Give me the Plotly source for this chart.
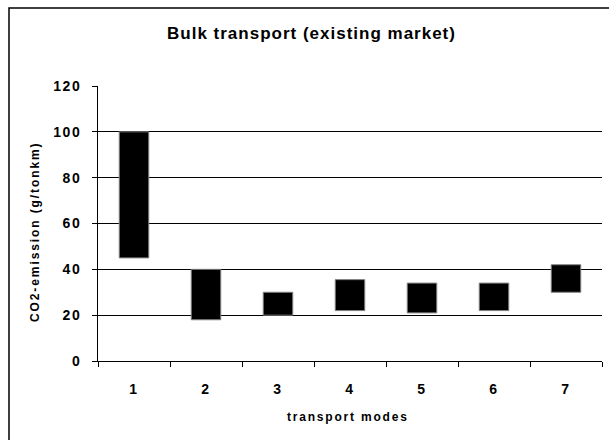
import plotly.graph_objects as go

modes = ["1", "2", "3", "4", "5", "6", "7"]
low_values = [45, 18, 20, 22, 21, 22, 30]
high_values = [100, 40, 30, 35.5, 34, 34, 42]
y_ticks = [0, 20, 40, 60, 80, 100, 120]

title_text = "Bulk transport (existing market)"
x_title = "transport modes"
y_title = "CO2-emission (g/tonkm)"

W, H = 609, 440
L, R, T, B = 98, 7, 86, 79
pw = W - L - R
ph = H - T - B

def px_x(p):
    return (p - L) / pw

def px_y(p):
    return (H - B - p) / ph

def spaced(s, sp):
    return '<span style="letter-spacing:%spx">%s</span>' % (sp, s)

FONT = "Liberation Sans, Arial, sans-serif"

fig = go.Figure()
fig.add_trace(go.Bar(
    x=modes,
    y=[h - l for h, l in zip(high_values, low_values)],
    base=low_values,
    width=0.41,
    marker=dict(color="#000000", line=dict(color="#808080", width=1)),
    showlegend=False,
    hoverinfo="skip",
))

fig.update_layout(
    width=W, height=H,
    margin=dict(l=L, r=R, t=T, b=B, pad=0),
    paper_bgcolor="white",
    plot_bgcolor="white",
    font=dict(family=FONT, color="#000000"),
    xaxis=dict(
        type="category",
        tickson="boundaries",
        ticks="outside", ticklen=5, tickcolor="#000000", tickwidth=1,
        showline=True, linecolor="#000000", linewidth=1,
        showgrid=False,
        tickvals=modes,
        ticktext=[spaced(m, 1.5) for m in modes],
        tickfont=dict(size=14, family=FONT, weight="bold"),
        ticklabelstandoff=15,
        range=[-0.5, 6.5],
    ),
    yaxis=dict(
        range=[0, 120],
        tickvals=y_ticks,
        ticktext=[spaced(str(v), 1.5) for v in y_ticks],
        ticks="outside", ticklen=5, tickcolor="#000000", tickwidth=1,
        showline=True, linecolor="#000000", linewidth=1,
        showgrid=True, gridcolor="#000000", gridwidth=1,
        zeroline=False,
        tickfont=dict(size=14, family=FONT, weight="bold"),
        ticklabelstandoff=8,
    ),
    annotations=[
        dict(text="<b>" + spaced(title_text, 1) + "</b>", xref="paper", yref="paper",
             x=px_x(311), y=px_y(34), showarrow=False,
             xanchor="center", yanchor="middle",
             font=dict(size=17, family=FONT, color="#000000")),
        dict(text="<b>" + spaced(x_title, 1.8) + "</b>", xref="paper", yref="paper",
             x=px_x(348), y=px_y(417), showarrow=False,
             xanchor="center", yanchor="middle",
             font=dict(size=12, family=FONT, color="#000000")),
        dict(text="<b>" + spaced(y_title, 1.9) + "</b>", xref="paper", yref="paper",
             x=px_x(35), y=px_y(232), showarrow=False, textangle=-90,
             xanchor="center", yanchor="middle",
             font=dict(size=12, family=FONT, color="#000000")),
    ],
    shapes=[
        dict(type="rect", xref="paper", yref="paper",
             x0=px_x(9), x1=px_x(640), y0=px_y(470), y1=px_y(8),
             line=dict(color="#000000", width=1.5), fillcolor="rgba(0,0,0,0)",
             layer="below"),
    ],
)

fig.write_html("out.html", config={"displayModeBar": False, "staticPlot": True},
               post_script="document.body.style.margin='0px';")
